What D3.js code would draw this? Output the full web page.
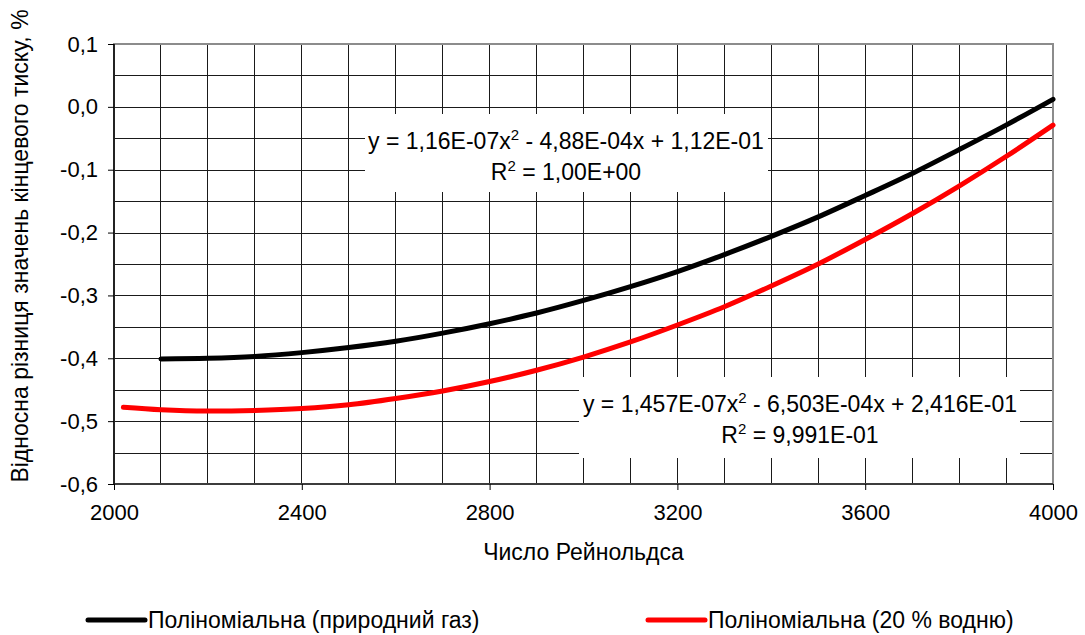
<!DOCTYPE html>
<html>
<head>
<meta charset="utf-8">
<script src="https://cdn.jsdelivr.net/npm/d3@7"></script>
<style>
  body { margin: 0; background: #fff; }
  svg { display: block; font-family: "Liberation Sans", Arial, sans-serif; }
  .grid line { stroke: #1a1a1a; stroke-width: 1; shape-rendering: crispEdges; }
  .axis text { font-size: 22px; fill: #000; }
  .axis path { display: none; }
  .axis line { stroke: #000; }
</style>
</head>
<body>
<div class="contents"></div>
<script>
// Reynolds numbers and relative differences (%)
var reGas = [2100, 2200, 2300, 2400, 2500, 2600, 2700, 2800, 2900, 3000,
             3100, 3200, 3300, 3400, 3500, 3600, 3700, 3800, 3900, 4000];
var gasValues = [-0.401, -0.400, -0.397, -0.391, -0.383, -0.373, -0.360, -0.345, -0.328, -0.308,
                 -0.286, -0.262, -0.235, -0.206, -0.175, -0.141, -0.106, -0.068, -0.029, 0.012];

var reH2 = [2020, 2100, 2200, 2300, 2400, 2500, 2600, 2700, 2800, 2900, 3000,
            3100, 3200, 3300, 3400, 3500, 3600, 3700, 3800, 3900, 4000];
var h2Values = [-0.478, -0.482, -0.484, -0.483, -0.480, -0.474, -0.464, -0.452, -0.437, -0.419, -0.398,
                -0.374, -0.347, -0.318, -0.285, -0.250, -0.211, -0.170, -0.126, -0.079, -0.029];

var xTicks = [2000, 2400, 2800, 3200, 3600, 4000];
var yTicks = [0.1, 0.0, -0.1, -0.2, -0.3, -0.4, -0.5, -0.6];
var yTickLabels = ["0,1", "0,0", "-0,1", "-0,2", "-0,3", "-0,4", "-0,5", "-0,6"];

var seriesNames = ["Поліноміальна (природний газ)", "Поліноміальна (20 % водню)"];
var seriesColors = ["#000000", "#ff0000"];

var xTitle = "Число Рейнольдса";
var yTitle = "Відносна різниця значень кінцевого тиску, %";

var width = 1085, height = 635;
var margin = { top: 44, right: 32, bottom: 151, left: 114 };
var innerW = width - margin.left - margin.right,
    innerH = height - margin.top - margin.bottom;

var svg = d3.select(".contents").append("svg")
    .attr("width", width)
    .attr("height", height);

var x = d3.scaleLinear().domain([2000, 4000]).range([0, innerW]);
var y = d3.scaleLinear().domain([-0.6, 0.1]).range([innerH, 0]);

var g = svg.append("g")
    .attr("transform", "translate(" + margin.left + "," + margin.top + ")");

// grid: every 100 on x, every 0.05 on y
var grid = g.append("g").attr("class", "grid");
grid.selectAll(".vx")
    .data(d3.range(2100, 4000, 100))
    .enter().append("line")
    .attr("x1", function(d) { return x(d); })
    .attr("x2", function(d) { return x(d); })
    .attr("y1", 0).attr("y2", innerH);
grid.selectAll(".hy")
    .data(d3.range(-11, 2).map(function(i) { return i * 0.05; }))
    .enter().append("line")
    .attr("x1", 0).attr("x2", innerW)
    .attr("y1", function(d) { return Math.round(y(d)) + 0.5; })
    .attr("y2", function(d) { return Math.round(y(d)) + 0.5; });

// white boxes behind trend equations
var labels = [
    { lines: [["y = 1,16E-07x", "2", " - 4,88E-04x + 1,12E-01"], ["R", "2", " = 1,00E+00"]],
      box: [365, 114, 768, 192], cx: 566 },
    { lines: [["y = 1,457E-07x", "2", " - 6,503E-04x + 2,416E-01"], ["R", "2", " = 9,991E-01"]],
      box: [579, 377, 1020, 458], cx: 800 }
];

labels.forEach(function(l) {
    svg.append("rect")
        .attr("x", l.box[0]).attr("y", l.box[1])
        .attr("width", l.box[2] - l.box[0])
        .attr("height", l.box[3] - l.box[1])
        .attr("fill", "#fff");
});

// plot border
g.append("rect")
    .attr("width", innerW).attr("height", innerH)
    .attr("fill", "none")
    .attr("stroke", "#8c8c8c")
    .attr("stroke-width", 2);
g.append("line")
    .attr("x1", 0).attr("x2", 0).attr("y1", 0).attr("y2", innerH)
    .attr("stroke", "#000").attr("stroke-width", 1.5);
g.append("line")
    .attr("x1", 0).attr("x2", innerW).attr("y1", innerH).attr("y2", innerH)
    .attr("stroke", "#222").attr("stroke-width", 1.5);

// axes
g.append("g")
    .attr("class", "x axis")
    .attr("transform", "translate(0," + innerH + ")")
    .call(d3.axisBottom(x).tickValues(xTicks).tickSize(6).tickPadding(14)
          .tickFormat(d3.format("d")));

g.append("g")
    .attr("class", "y axis")
    .call(d3.axisLeft(y).tickValues(yTicks).tickSize(6).tickPadding(10)
          .tickFormat(function(d, i) { return yTickLabels[i]; }));

svg.append("text")
    .attr("x", margin.left + innerW / 2)
    .attr("y", 560)
    .attr("text-anchor", "middle")
    .style("font-size", "23px")
    .text(xTitle);

svg.append("text")
    .attr("transform", "translate(28,246) rotate(-90)")
    .attr("text-anchor", "middle")
    .style("font-size", "23px")
    .text(yTitle);

// curves
var line = d3.line()
    .x(function(d) { return x(d[0]); })
    .y(function(d) { return y(d[1]); })
    .curve(d3.curveMonotoneX);

var series = [d3.zip(reGas, gasValues), d3.zip(reH2, h2Values)];
g.selectAll(".curve")
    .data(series)
    .enter().append("path")
    .attr("class", "curve")
    .attr("d", line)
    .attr("fill", "none")
    .attr("stroke", function(d, i) { return seriesColors[i]; })
    .attr("stroke-width", 5)
    .attr("stroke-linecap", "round");

// trend equations
labels.forEach(function(l) {
    l.lines.forEach(function(parts, j) {
        var t = svg.append("text")
            .attr("x", l.cx)
            .attr("y", l.box[1] + 35 + j * 31)
            .attr("text-anchor", "middle")
            .style("font-size", "23px");
        t.append("tspan").text(parts[0]);
        t.append("tspan").attr("dy", -9).style("font-size", "15px").text(parts[1]);
        t.append("tspan").attr("dy", 9).text(parts[2]);
    });
});

// legend
var legendX = [88, 648];
var legend = svg.selectAll(".legend")
    .data(seriesNames)
    .enter().append("g")
    .attr("class", "legend")
    .attr("transform", function(d, i) { return "translate(" + legendX[i] + ",620)"; });
legend.append("line")
    .attr("x1", 0).attr("x2", 57)
    .attr("stroke", function(d, i) { return seriesColors[i]; })
    .attr("stroke-width", 5)
    .attr("stroke-linecap", "round");
legend.append("text")
    .attr("x", 60)
    .attr("y", 8)
    .style("font-size", "23px")
    .text(function(d) { return d; });
</script>
</body>
</html>
